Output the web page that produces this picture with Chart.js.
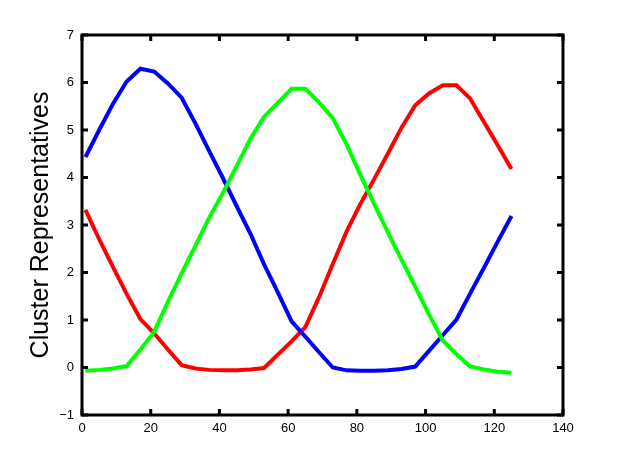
<!DOCTYPE html>
<html>
<head>
<meta charset="utf-8">
<script src="https://cdn.jsdelivr.net/npm/chart.js@4/dist/chart.umd.min.js"></script>
<style>
html,body{margin:0;padding:0;background:#fff;}
#wrap{width:622px;height:467px;position:relative;}
</style>
</head>
<body>
<div id="wrap"><canvas id="c" width="622" height="467"></canvas></div>
<script>
// sample positions (x)
const xValues = [1,5,9,13,17,21,25,29,33,37,41,45,49,53,57,61,65,69,73,77,81,85,89,93,97,101,105,109,113,117,121,125];
// cluster representatives
const blueValues  = [4.43,5.00,5.55,6.02,6.29,6.23,5.98,5.68,5.14,4.56,3.99,3.40,2.82,2.17,1.58,0.97,0.65,0.32,0.00,-0.06,-0.07,-0.07,-0.06,-0.03,0.02,0.35,0.68,1.01,1.56,2.10,2.65,3.19];
const redValues   = [3.32,2.70,2.12,1.55,1.02,0.72,0.38,0.05,-0.02,-0.05,-0.06,-0.06,-0.04,-0.01,0.27,0.55,0.85,1.48,2.18,2.86,3.44,3.96,4.50,5.05,5.52,5.77,5.94,5.94,5.66,5.17,4.68,4.18];
const greenValues = [-0.07,-0.05,-0.02,0.03,0.38,0.75,1.38,1.98,2.56,3.15,3.67,4.24,4.81,5.28,5.57,5.87,5.87,5.58,5.25,4.70,4.06,3.45,2.85,2.27,1.70,1.12,0.57,0.28,0.02,-0.04,-0.09,-0.11];
// tick labels
const xTickValues = [0,20,40,60,80,100,120,140];
const xTickLabels = ['0','20','40','60','80','100','120','140'];
const yTickValues = [-1,0,1,2,3,4,5,6,7];
const yTickLabels = ['\u22121','0','1','2','3','4','5','6','7'];
const yTitle = 'Cluster Representatives';

function pts(ys){ return xValues.map((x,i)=>({x:x,y:ys[i]})); }
function ds(ys,color){
  return {data:pts(ys),borderColor:color,backgroundColor:color,borderWidth:4,
    pointRadius:0,showLine:true,fill:false,tension:0,borderJoinStyle:'miter',borderCapStyle:'butt'};
}

const framePlugin = {
  id:'frame',
  afterDraw(chart){
    const ctx = chart.ctx, a = chart.chartArea;
    const xs = chart.scales.x, ys = chart.scales.y;
    ctx.save();
    ctx.strokeStyle = '#000';
    ctx.lineWidth = 3;
    ctx.strokeRect(a.left, a.top, a.right - a.left, a.bottom - a.top);
    ctx.beginPath();
    const L = 6;
    xTickValues.forEach(v=>{
      const p = xs.getPixelForValue(v);
      ctx.moveTo(p, a.bottom); ctx.lineTo(p, a.bottom - L);
      ctx.moveTo(p, a.top); ctx.lineTo(p, a.top + L);
    });
    yTickValues.forEach(v=>{
      const p = ys.getPixelForValue(v);
      ctx.moveTo(a.left, p); ctx.lineTo(a.left + L, p);
      ctx.moveTo(a.right, p); ctx.lineTo(a.right - L, p);
    });
    ctx.stroke();
    ctx.restore();
  }
};

const tickFont = {family:'"Liberation Sans", Arial, Helvetica, sans-serif', size:13};

new Chart(document.getElementById('c'), {
  type:'scatter',
  data:{datasets:[ds(greenValues,'#00ff00'), ds(blueValues,'#0000ff'), ds(redValues,'#ff0000')]},
  options:{
    responsive:false,
    animation:false,
    events:[],
    layout:{padding:{left:0,top:35,right:59,bottom:0}},
    plugins:{legend:{display:false},tooltip:{enabled:false}},
    scales:{
      x:{type:'linear',min:0,max:140,
        afterBuildTicks(s){ s.ticks = xTickValues.map(v=>({value:v})); },
        afterFit(s){ s.height = 52; },
        grid:{display:false,drawTicks:false},
        border:{display:false},
        ticks:{color:'#000',font:tickFont,padding:6,maxRotation:0,autoSkip:false,
          callback:(v)=>{const i=xTickValues.indexOf(v);return i>=0?xTickLabels[i]:'';}}
      },
      y:{type:'linear',min:-1,max:7,
        afterBuildTicks(s){ s.ticks = yTickValues.map(v=>({value:v})); },
        afterFit(s){ s.width = 82; },
        grid:{display:false,drawTicks:false},
        border:{display:false},
        title:{display:true,text:yTitle,color:'#000',
          font:{family:'"Liberation Sans", Arial, Helvetica, sans-serif',size:25},
          padding:{top:26,bottom:0}},
        ticks:{color:'#000',font:tickFont,padding:8,autoSkip:false,
          callback:(v)=>{const i=yTickValues.indexOf(v);return i>=0?yTickLabels[i]:'';}}
      }
    }
  },
  plugins:[framePlugin]
});
</script>
</body>
</html>
